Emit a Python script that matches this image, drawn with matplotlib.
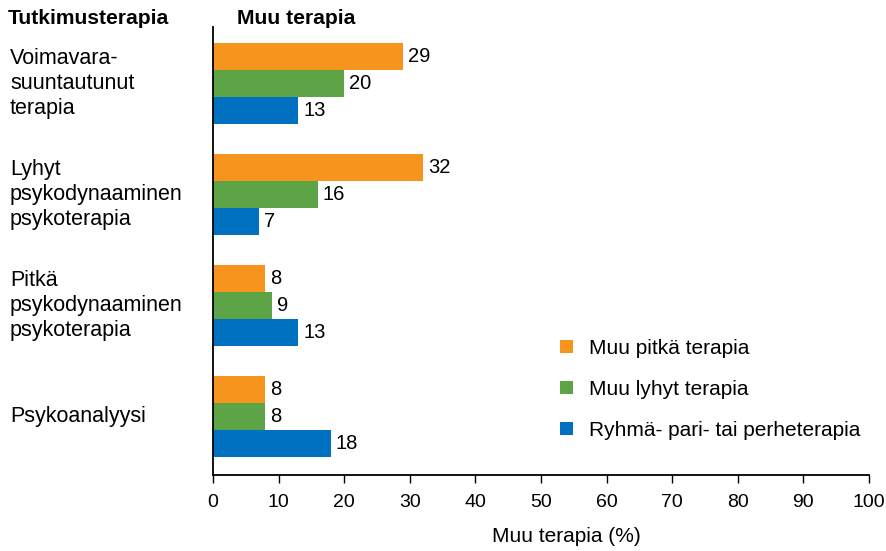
import numpy as np
import matplotlib
matplotlib.use("Agg")
import matplotlib.pyplot as plt
from matplotlib import transforms

plt.rcParams['font.family'] = ['Liberation Sans', 'DejaVu Sans']

# data
categories = ["Voimavara-\nsuuntautunut\nterapia",
              "Lyhyt\npsykodynaaminen\npsykoterapia",
              "Pitkä\npsykodynaaminen\npsykoterapia",
              "Psykoanalyysi"]
series_names = ["Muu pitkä terapia", "Muu lyhyt terapia", "Ryhmä- pari- tai perheterapia"]
pitka = [29, 32, 8, 8]
lyhyt = [20, 16, 9, 8]
ryhma = [13, 7, 13, 18]
colors = ["#F7941D", "#5DA446", "#0070C0"]
xticks = list(range(0, 101, 10))

fig = plt.figure(figsize=(8.87, 5.51), dpi=100)
ax = fig.add_axes([213 / 887, 1 - 475 / 551, 656 / 887, 448 / 551])

y = np.arange(len(categories))
h = 27 / 111
for k, (vals, col, name) in enumerate(zip([pitka, lyhyt, ryhma], colors, series_names)):
    bars = ax.barh(y + (k - 1) * h, vals, height=h, color=col, label=name,
                   edgecolor='none')
    ax.bar_label(bars, labels=[str(v) for v in vals], padding=3.5, fontsize=14.5)

ax.set_xlim(0, 100)
ax.set_ylim(3.53, -0.505)
ax.set_xticks(xticks)
ax.tick_params(axis='x', labelsize=14, length=6, width=1, direction='out', pad=8)
ax.set_yticks([])
for s in ['top', 'right']:
    ax.spines[s].set_visible(False)
for s in ['left', 'bottom']:
    ax.spines[s].set_linewidth(1.3)

ax.set_xlabel("Muu terapia (%)", fontsize=15)
ax.xaxis.set_label_coords((566 - 213) / 656, -0.115)

# group labels on the left, centred on each group
blend = transforms.blended_transform_factory(fig.transFigure, ax.transData)
for yi, cat in zip(y, categories):
    fig.text(10 / 887, yi, cat, fontsize=15.5, ha='left', va='center',
             linespacing=1.25, transform=blend)

fig.text(8 / 887, 1 - 18 / 551, "Tutkimusterapia", fontsize=15.2, fontweight='bold',
         ha='left', va='center')
fig.text(237 / 887, 1 - 18 / 551, "Muu terapia", fontsize=15.2, fontweight='bold',
         ha='left', va='center')

ax.legend(frameon=False, loc='upper left', bbox_to_anchor=(560 / 887, 1 - 339 / 551),
          bbox_transform=fig.transFigure, fontsize=15, handlelength=0.6,
          handleheight=0.6, handletextpad=0.8, labelspacing=1.05, borderaxespad=0,
          borderpad=0)

fig.savefig("out.png", dpi=100)
